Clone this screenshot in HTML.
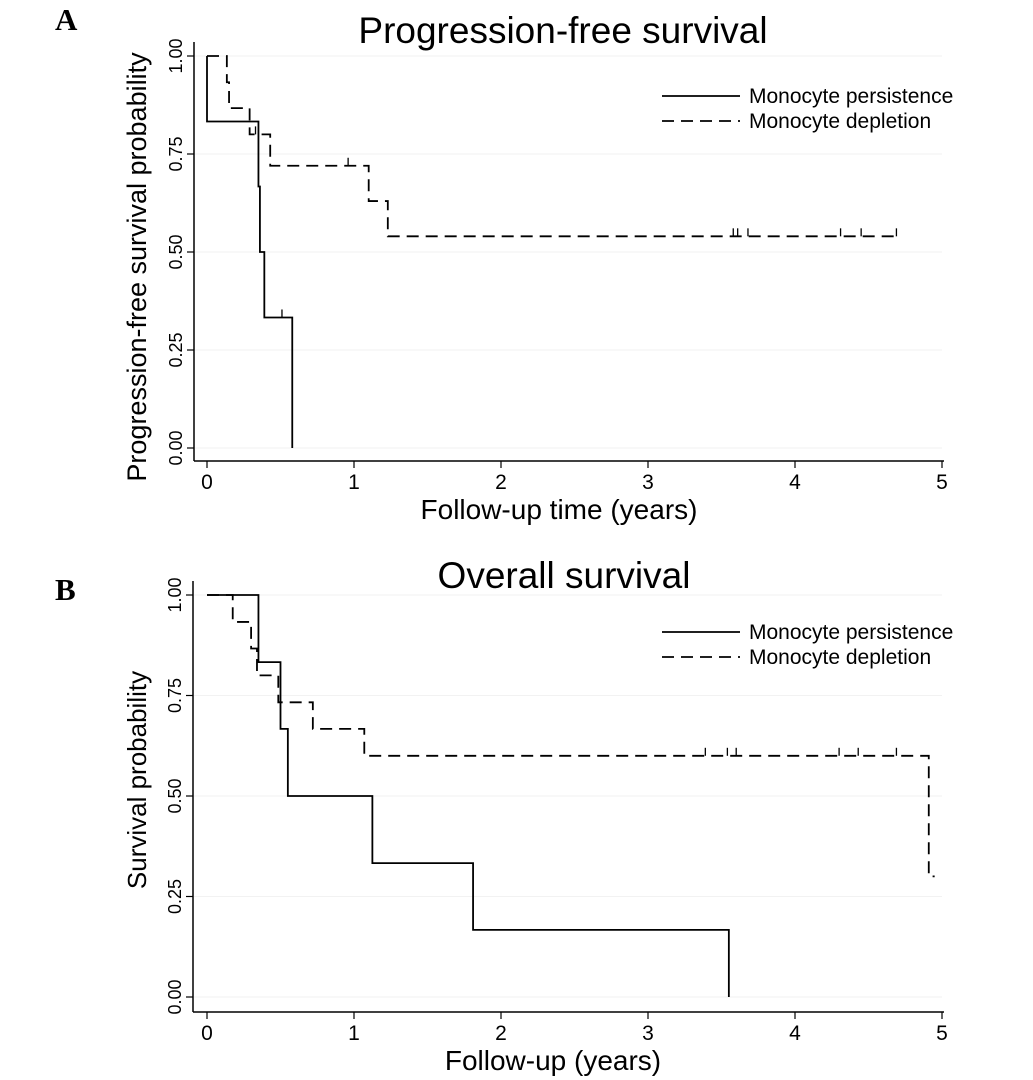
<!DOCTYPE html>
<html><head><meta charset="utf-8"><style>
html,body{margin:0;padding:0;background:#fff;}
svg{display:block;font-family:"Liberation Sans",Arial,sans-serif;}
</style></head><body>
<svg id="fig" width="1033" height="1080" viewBox="0 0 1033 1080"></svg>
<script>
// Panel A: progression-free survival
const aPersistTimes=[0,0.35,0.36,0.39,0.58];
const aPersistSurv=[0.833,0.667,0.5,0.333,0];
const aPersistCens=[0.51];
const aPersistEnd=0.58;
const aDepleteTimes=[0.135,0.15,0.29,0.43,1.10,1.23];
const aDepleteSurv=[0.933,0.867,0.8,0.72,0.63,0.54];
const aDepleteCens=[0.33,0.96,3.58,3.61,3.68,4.31,4.45,4.69];
const aDepleteEnd=4.69;
// Panel B: overall survival
const bPersistTimes=[0.35,0.50,0.55,1.125,1.81,3.55];
const bPersistSurv=[0.833,0.667,0.5,0.333,0.167,0];
const bPersistCens=[];
const bPersistEnd=3.55;
const bDepleteTimes=[0.175,0.30,0.34,0.485,0.72,1.07,4.91];
const bDepleteSurv=[0.933,0.867,0.8,0.733,0.667,0.6,0.3];
const bDepleteCens=[3.39,3.54,3.60,4.30,4.43,4.69];
const bDepleteEnd=4.95;
const xTicks=[0,1,2,3,4,5];
const yTicks=[0,0.25,0.5,0.75,1];
const yTickLabels=["0.00","0.25","0.50","0.75","1.00"];

const NS="http://www.w3.org/2000/svg";
const svg=document.getElementById('fig');
function mk(tag,attrs,parent){const e=document.createElementNS(NS,tag);for(const k in attrs)e.setAttribute(k,attrs[k]);(parent||svg).appendChild(e);return e;}

function panel(p){
  const g=mk('g',{});
  
  
  const X=t=>p.x0+t*p.xs, Y=s=>p.y0-s*p.ys;
  yTicks.forEach(v=>{const l=mk('line',{x1:p.axX+1,x2:X(5),y1:Y(v),y2:Y(v),stroke:'#f2f2f2','stroke-width':1},g);
    });
  const ya=mk('line',{x1:p.axX,x2:p.axX,y1:Y(1)-14,y2:p.axY,stroke:'#000','stroke-width':1.5},g);
  
  const xa=mk('line',{x1:p.axX,x2:X(5)+2,y1:p.axY,y2:p.axY,stroke:'#000','stroke-width':1.5},g);
  
  yTicks.forEach((v,i)=>{
    const tk=mk('line',{x1:p.axX-7,x2:p.axX,y1:Y(v),y2:Y(v),stroke:'#000','stroke-width':1.2},g);
    
    const t=mk('text',{x:0,y:0,transform:`translate(${p.axX-12},${Y(v)}) rotate(-90)`,'text-anchor':'middle','font-size':18},g);
    t.textContent=yTickLabels[i];
    
  });
  xTicks.forEach(v=>{
    const tk=mk('line',{x1:X(v),x2:X(v),y1:p.axY,y2:p.axY+7,stroke:'#000','stroke-width':1.2},g);
    
    const t=mk('text',{x:X(v),y:p.axY+28,'text-anchor':'middle','font-size':21},g);
    t.textContent=v;
    
  });
  const tt=mk('text',{x:p.titleX,y:p.titleY,'text-anchor':'middle','font-size':37},g);
  tt.textContent=p.title;
  const xt=mk('text',{x:p.xlabX,y:p.axY+58,'text-anchor':'middle','font-size':28},g);
  xt.textContent=p.xlabel;
  const yt=mk('text',{x:0,y:0,transform:`translate(146,${p.ylabY}) rotate(-90)`,'text-anchor':'middle','font-size':p.ylabSize},g);
  yt.textContent=p.ylabel;
  const lt=mk('text',{x:55,y:p.letterY,'font-size':31,'font-weight':'bold','font-family':'"Liberation Serif",serif'},g);
  lt.textContent=p.key==='panel-a'?'A':'B';
  function curve(times,surv,cens,end,dash,name){
    let d=`M${X(0)},${Y(1)}`;
    times.forEach((t,i)=>{d+=` H${X(t)} V${Y(surv[i])}`;});
    d+=` H${X(end)}`;
    const path=mk('path',{d,fill:'none',stroke:'#000','stroke-width':1.8,'stroke-dasharray':dash},g);
    
    cens.forEach(c=>{
      let sv=1;times.forEach((t,i)=>{if(t<=c)sv=surv[i];});
      const m=mk('line',{x1:X(c),x2:X(c),y1:Y(sv),y2:Y(sv)-8,stroke:'#000','stroke-width':1.3},g);
      
    });
  }
  curve(p.pt,p.ps,p.pc,p.pe,'none','persistence-curve');
  curve(p.dt,p.ds,p.dc,p.de,'12 7','depletion-curve');
  const lg=mk('g',{},g);
  [[0,'none','Monocyte persistence'],[25,'12 7','Monocyte depletion']].forEach(([dy,dash,lab])=>{
    const l=mk('line',{x1:662,x2:740,y1:p.legY+dy,y2:p.legY+dy,stroke:'#000','stroke-width':1.8,'stroke-dasharray':dash},lg);
    
    const t=mk('text',{x:749,y:p.legY+dy+7,'font-size':21},lg);
    t.textContent=lab;
  });
}
panel({key:'panel-a',x0:207,xs:147,y0:448,ys:392,axX:194,axY:461,titleX:563,titleY:43,xlabX:559,ylabY:267,ylabSize:27,letterY:30,legY:96,
  title:'Progression-free survival',xlabel:'Follow-up time (years)',ylabel:'Progression-free survival probability',
  pt:aPersistTimes,ps:aPersistSurv,pc:aPersistCens,pe:aPersistEnd,dt:aDepleteTimes,ds:aDepleteSurv,dc:aDepleteCens,de:aDepleteEnd});
panel({key:'panel-b',x0:207,xs:147,y0:997,ys:402,axX:193,axY:1012,titleX:564,titleY:588,xlabX:553,ylabY:780,ylabSize:26,letterY:600,legY:632,
  title:'Overall survival',xlabel:'Follow-up (years)',ylabel:'Survival probability',
  pt:bPersistTimes,ps:bPersistSurv,pc:bPersistCens,pe:bPersistEnd,dt:bDepleteTimes,ds:bDepleteSurv,dc:bDepleteCens,de:bDepleteEnd});
</script>
</body></html>
